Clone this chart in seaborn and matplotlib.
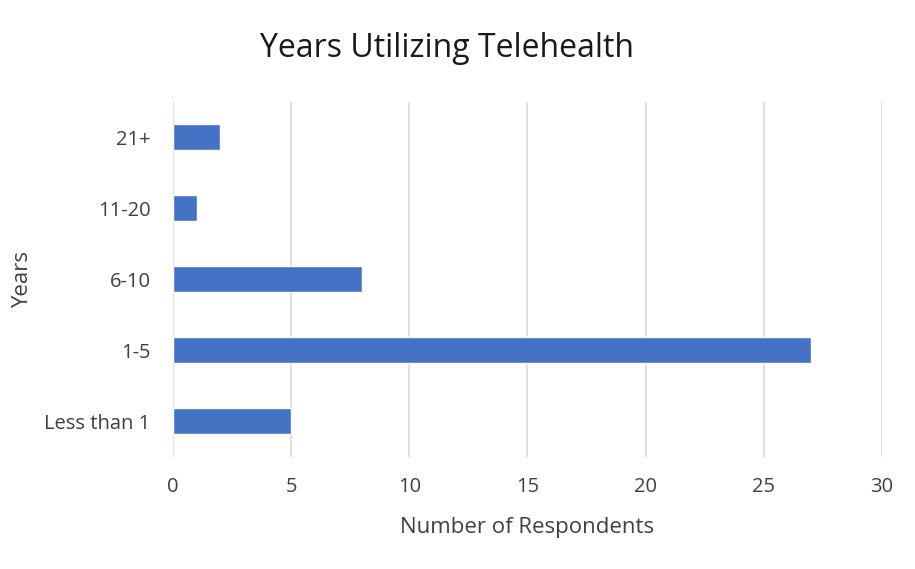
import matplotlib
matplotlib.use("Agg")
import matplotlib.pyplot as plt
import seaborn as sns
import pandas as pd

# Survey responses: years of telehealth use
categories = ["21+", "11-20", "6-10", "1-5", "Less than 1"]
respondents = [2, 1, 8, 27, 5]
x_ticks = [0, 5, 10, 15, 20, 25, 30]

df = pd.DataFrame({"Years": categories, "Respondents": respondents})

sns.set_theme(style="white")
plt.rcParams["font.family"] = ["Open Sans", "DejaVu Sans"]

fig = plt.figure(figsize=(9.15, 5.69), dpi=100)
ax = fig.add_axes([0.189, 0.1977, 0.775, 0.6239])

sns.barplot(data=df, x="Respondents", y="Years", order=categories,
            color="#4472C4", saturation=1, width=0.37, ax=ax, zorder=3)

ax.set_xlim(0, 30)
ax.set_xticks(x_ticks)
ax.set_xticklabels([str(t) for t in x_ticks])
ax.xaxis.grid(True, color="#D9D9D9", linewidth=1.2, zorder=0)
ax.set_axisbelow(True)
for s in ax.spines.values():
    s.set_visible(False)

ax.tick_params(axis="x", length=0, pad=15, labelsize=14.5, labelcolor="#404040")
ax.tick_params(axis="y", length=0, pad=16, labelsize=14.5, labelcolor="#404040")

ax.set_xlabel("Number of Respondents", fontsize=16, color="#404040", va="center")
ax.xaxis.set_label_coords(0.5, -0.20)
ax.set_ylabel("Years", fontsize=16, color="#404040", va="center")
ax.yaxis.set_label_coords(-0.212, 0.5)

fig.text(0.488, 0.915, "Years Utilizing Telehealth", fontsize=23,
         color="#1a1a1a", ha="center", va="center")

fig.savefig("out.png", dpi=100)
